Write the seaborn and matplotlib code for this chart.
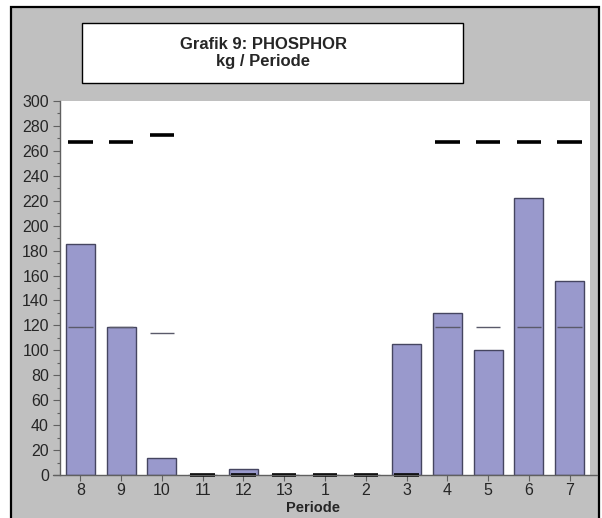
import numpy as np
import pandas as pd
import matplotlib
matplotlib.use("Agg")
import matplotlib.pyplot as plt
from matplotlib.patches import Rectangle
from matplotlib.ticker import MultipleLocator
import seaborn as sns

# data
perioden = ["8", "9", "10", "11", "12", "13", "1", "2", "3", "4", "5", "6", "7"]
phosphor = [185, 119, 14, 0, 5, 0, 0, 0, 105, 130, 100, 222, 156]
grenzwert = [267, 267, 273, 0, 0, 0, 0, 0, 0, 267, 267, 267, 267]
mittelwert = [119, 119, 114, np.nan, np.nan, np.nan, np.nan, np.nan, np.nan, 119, 119, 119, 119]

df = pd.DataFrame({"Periode": perioden, "kg": phosphor})

sns.set_style("white")
plt.rcParams["font.family"] = ["Liberation Sans", "DejaVu Sans"]

fig = plt.figure(figsize=(6.02, 5.18), dpi=100)
fig.patch.set_facecolor("white")

# gray frame behind everything (open at the bottom)
W, H = 602, 518
fig.patches.append(Rectangle((11 / W, -0.05), (599 - 11) / W, (H - 7) / H + 0.05,
                             transform=fig.transFigure, facecolor="#c0c0c0",
                             edgecolor="black", linewidth=1.6, zorder=-10))

# title box
fig.patches.append(Rectangle((82 / W, 1 - 83 / H), (463 - 82) / W, (83 - 23) / H,
                             transform=fig.transFigure, facecolor="white",
                             edgecolor="black", linewidth=1.0, zorder=1))
fig.text(263 / W, 1 - 53 / H, "Grafik 9: PHOSPHOR\nkg / Periode", ha="center",
         va="center", fontsize=12, fontweight="bold", linespacing=1.2)

ax = fig.add_axes([60 / W, 1 - 475 / H, (590 - 60) / W, (475 - 101) / H])
ax.set_facecolor("white")

sns.barplot(data=df, x="Periode", y="kg", order=perioden, color="#9999cc",
            saturation=1, width=0.71, edgecolor="#454560", linewidth=1.0, ax=ax, zorder=2)

pos = np.arange(len(perioden))
ax.hlines(mittelwert, pos - 0.3, pos + 0.3, colors="#5a5a6a", linewidth=1.0, zorder=3)
ax.hlines(grenzwert, pos - 0.3, pos + 0.3, colors="black", linewidth=2.6, zorder=4,
          clip_on=False)

ax.set_ylim(0, 300)
ax.set_xlim(-0.5, len(perioden) - 0.5)
ax.yaxis.set_major_locator(MultipleLocator(20))
ax.yaxis.set_minor_locator(MultipleLocator(10))

for s in ["top", "right", "bottom"]:
    ax.spines[s].set_visible(False)
ax.spines["left"].set_color("#606060")
ax.spines["left"].set_linewidth(1.0)
ax.plot([-7 / 530, 537 / 530], [0, 0], transform=ax.transAxes, clip_on=False,
        color="#606060", linewidth=1.0, zorder=5)

ax.tick_params(axis="y", which="major", left=True, length=5, width=0.8,
               color="#606060", labelsize=11.5, pad=3)
ax.tick_params(axis="y", which="minor", left=True, length=2.5, width=0.8, color="#606060")
ax.tick_params(axis="x", which="major", bottom=True, length=4, width=0.8,
               color="#606060", labelsize=11.5, pad=1.5)

ax.set_ylabel("")
ax.set_xlabel("")
fig.text(313 / W, 1 - 508 / H, "Periode", ha="center", va="center",
         fontsize=10.5, fontweight="bold")

fig.savefig("out.png", dpi=100)
